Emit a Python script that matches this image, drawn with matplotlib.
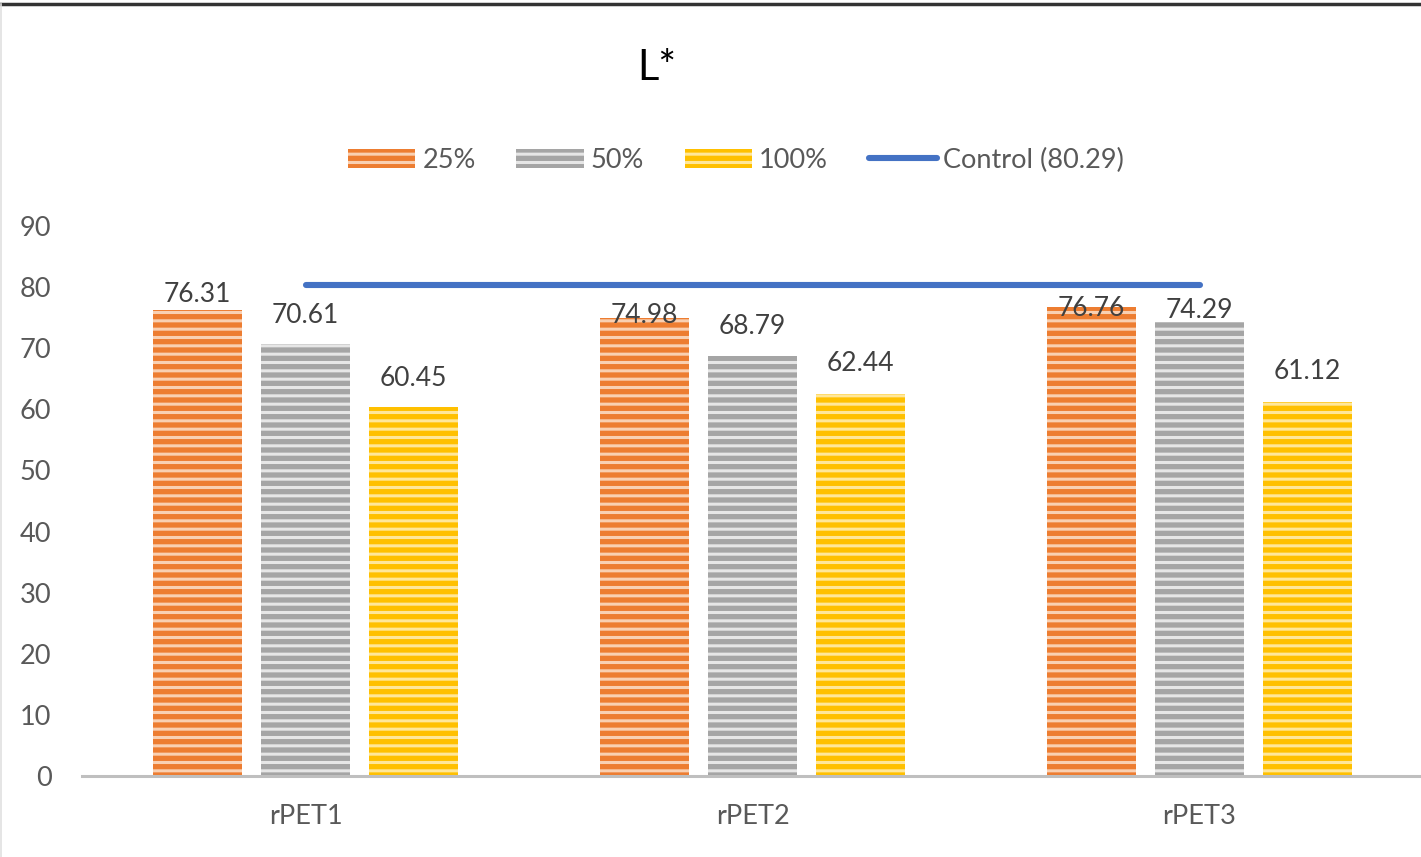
import matplotlib
matplotlib.use("Agg")
import matplotlib.pyplot as plt
from matplotlib.lines import Line2D
import numpy as np

categories = ["rPET1", "rPET2", "rPET3"]
series_names = ["25%", "50%", "100%"]
values_25 = [76.31, 74.98, 76.76]
values_50 = [70.61, 68.79, 74.29]
values_100 = [60.45, 62.44, 61.12]
control_value = 80.29
control_label = "Control (80.29)"
y_ticks = [0, 10, 20, 30, 40, 50, 60, 70, 80, 90]

# styling
bar_colors = ["#ED7D31", "#A5A5A5", "#FFC000"]
stripe_colors = ["#F9D0B2", "#E6E6E6", "#FFE79A"]
line_color = "#4472C4"
text_color = "#595959"
# vertical offset (points) of each value label above its bar
label_offsets = [[11, 2, -1], [21, 21, 8], [20, 22, 22]]

plt.rcParams["font.family"] = ["Lato", "DejaVu Sans"]
plt.rcParams["hatch.linewidth"] = 2.2

W, H = 1421, 857
fig = plt.figure(figsize=(W / 100, H / 100), dpi=100)
ax = fig.add_axes([82 / W, (H - 776) / H, (1423 - 82) / W, (776 - 226) / H])

x = np.arange(len(categories))
width = 0.197
step = 0.2416
all_values = [values_25, values_50, values_100]

bars = []
for i, (vals, name) in enumerate(zip(all_values, series_names)):
    pos = x + (i - 1) * step
    b = ax.bar(pos, vals, width, color=bar_colors[i], edgecolor=stripe_colors[i],
               hatch="--", linewidth=0, label=name, zorder=2)
    bars.append(b)
    for xp, v, off in zip(pos, vals, label_offsets[i]):
        ax.annotate(f"{v:.2f}", (xp, v), xytext=(0, off), textcoords="offset points",
                    ha="center", va="center", fontsize=19, color="#404040", zorder=4)

ax.plot(x, [control_value] * len(x), color=line_color, linewidth=4.4,
        solid_capstyle="round", label=control_label, zorder=3)

ax.set_xlim(-0.5, 2.5)
ax.set_ylim(0, 90)
ax.set_yticks(y_ticks)
ax.set_xticks(x)
ax.set_xticklabels(categories)
ax.tick_params(axis="y", length=0, pad=22, labelsize=19.5, labelcolor=text_color)
ax.tick_params(axis="x", length=0, pad=20, labelsize=19.5, labelcolor=text_color)
for s in ["top", "right", "left"]:
    ax.spines[s].set_visible(False)
ax.spines["bottom"].set_color("#BFBFBF")
ax.spines["bottom"].set_linewidth(2.2)
ax.spines["bottom"].set_zorder(5)

fig.text(657 / W, 1 - 68 / H, "L*", fontsize=30, color="black", ha="center", va="center")

handles = [b for b in bars] + [Line2D([0], [0], color=line_color, linewidth=4.4, solid_capstyle="round")]
labels = series_names + [control_label]
leg = fig.legend(handles, labels, loc="center", bbox_to_anchor=(736 / W, 1 - 160 / H),
                 ncol=4, frameon=False, fontsize=19.5, handlelength=2.5, handleheight=0.7,
                 handletextpad=0.25, columnspacing=1.5, labelcolor=text_color)

# outer frame: dark top edge and light left edge
fig.add_artist(Line2D([0, 1], [1 - 4 / H, 1 - 4 / H], transform=fig.transFigure,
                      color="#333333", linewidth=2.5))
fig.add_artist(Line2D([1 / W, 1 / W], [0, 1 - 4 / H], transform=fig.transFigure,
                      color="#E0E0E0", linewidth=1.2))

fig.savefig("out.png", dpi=100, facecolor="white")
